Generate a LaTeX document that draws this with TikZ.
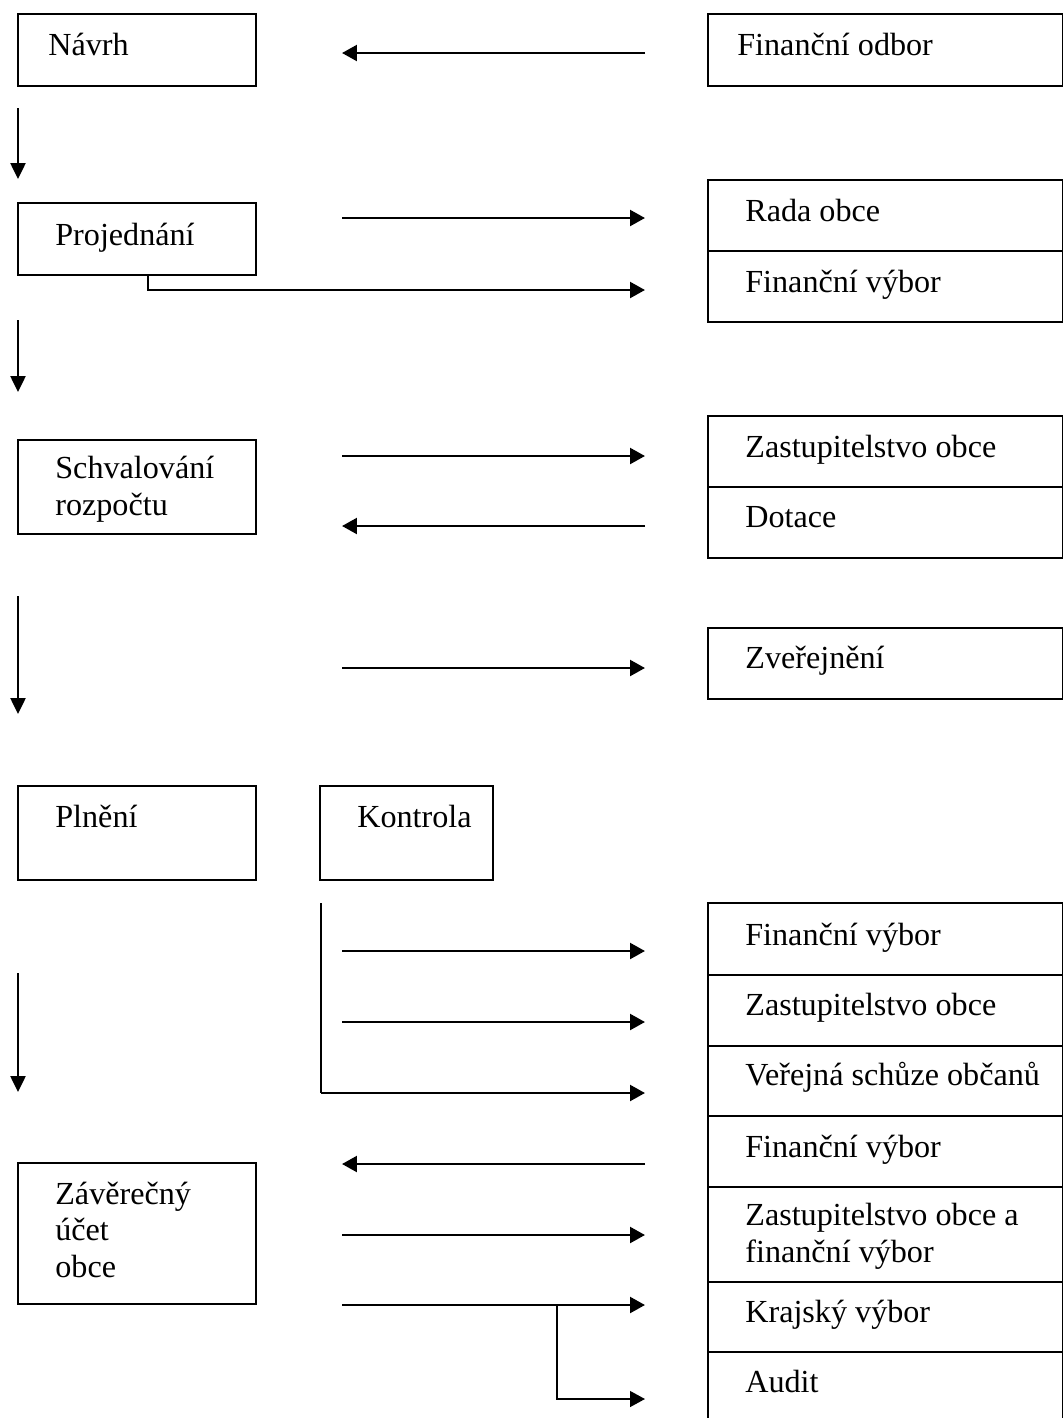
\documentclass[tikz,border=0pt]{standalone}
\usepackage{fontspec}
\setmainfont{Liberation Serif}
\usetikzlibrary{arrows.meta}
\usetikzlibrary{fit}
\usetikzlibrary{calc}
\tikzset{
  box/.style={draw, line width=1.1pt, inner sep=0pt},
  txt/.style={anchor=base west, inner sep=0pt, align=left},
  flow/.style={line width=1.5pt, -{Triangle[length=8.5pt,width=9pt]}},
  down/.style={line width=1.2pt, -{Triangle[length=9pt,width=8.5pt]}},
  thinflow/.style={line width=1pt}
}

\begin{document}
\begin{tikzpicture}[x=0.02cm, y=-0.02cm, font=\fontsize{18.3}{20.6}\selectfont]
\useasboundingbox (0,0) rectangle (1064,1418);
\clip (0,0) rectangle (1064,1418);
% stages on the left
\node[box, fit={(18,14) (256,86)}] (navrh) {};
\node[box, fit={(18,203) (256,275)}] (proj) {};
\node[box, fit={(18,440) (256,534)}] (schval) {};
\node[box, fit={(18,786) (256,880)}] (plneni) {};
\node[box, fit={(320,786) (493,880)}] (kontrola) {};
\node[box, fit={(18,1163) (256,1304)}] (zaver) {};
% (multi-line texts sit on their last line)
\node[txt] (t-navrh) at (48,55) {Návrh};
\node[txt] (t-proj) at (55,245) {Projednání};
\node[txt] (t-schval) at (55,515) {Schvalování\\rozpočtu};
\node[txt] (t-plneni) at (55,827) {Plnění};
\node[txt] (t-kontrola) at (357,827) {Kontrola};
\node[txt] (t-zaver) at (55,1277) {Závěrečný\\účet\\obce};
% bodies on the right
\foreach \n/\a/\b in {fo/14/86, rada/180/251, fv1/251/322, zo1/416/487,
    dot/487/558, zve/628/699, fv2/903/975, zo2/975/1046, ver/1046/1116,
    fv3/1116/1187, zofv/1187/1282, kraj/1282/1352, audit/1352/1440} {
  \node[box, fit={(708,\a) (1062.5,\b)}] (\n) {};
}
\node[txt] (t-fo) at (737,55) {Finanční odbor};
\foreach \n/\y/\t in {rada/221/{Rada obce}, fv1/292/{Finanční výbor},
    zo1/457/{Zastupitelstvo obce}, dot/527/{Dotace}, zve/668/{Zveřejnění},
    fv2/945/{Finanční výbor}, zo2/1015/{Zastupitelstvo obce},
    ver/1085/{Veřejná schůze občanů}, fv3/1157/{Finanční výbor},
    zofv/1262/{Zastupitelstvo obce a\\finanční výbor},
    kraj/1322/{Krajský výbor}, audit/1392/{Audit}} {
  \node[txt] (t-\n) at (745,\y) {\t};
}
% arrow ends between the columns
\foreach \y [count=\k] in {53,218,290,456,526,668,951,1022,1093,1164,1235,1305,1399} {
  \coordinate (l\k) at (342,\y);
  \coordinate (r\k) at (645,\y);
}
\draw[flow] (r1) -- (l1);
\draw[flow] (l2) -- (r2);
\draw[flow] ($(proj.south)+(11,0)$) |- (r3);
\draw[flow] (l4) -- (r4);
\draw[flow] (r5) -- (l5);
\draw[flow] (l6) -- (r6);
\coordinate (k0) at (321,903);
\coordinate (k1) at (321,1093);
\draw[thinflow] (k0) -- (k1);
\draw[flow] (k1) -- (r9);
\draw[flow] (l7) -- (r7);
\draw[flow] (l8) -- (r8);
\draw[flow] (r10) -- (l10);
\draw[flow] (l11) -- (r11);
\draw[flow] (l12) -- (r12);
\coordinate (br) at (557,1305);
\draw[flow, line width=1pt] (br) |- (r13);
% steps down the left side
\foreach \a/\b [count=\k] in {108/179, 320/392, 596/714, 973/1092} {
  \coordinate (d\k) at (18,\a);
  \coordinate (e\k) at (18,\b);
  \draw[down] (d\k) -- (e\k);
}
\end{tikzpicture}
\end{document}
